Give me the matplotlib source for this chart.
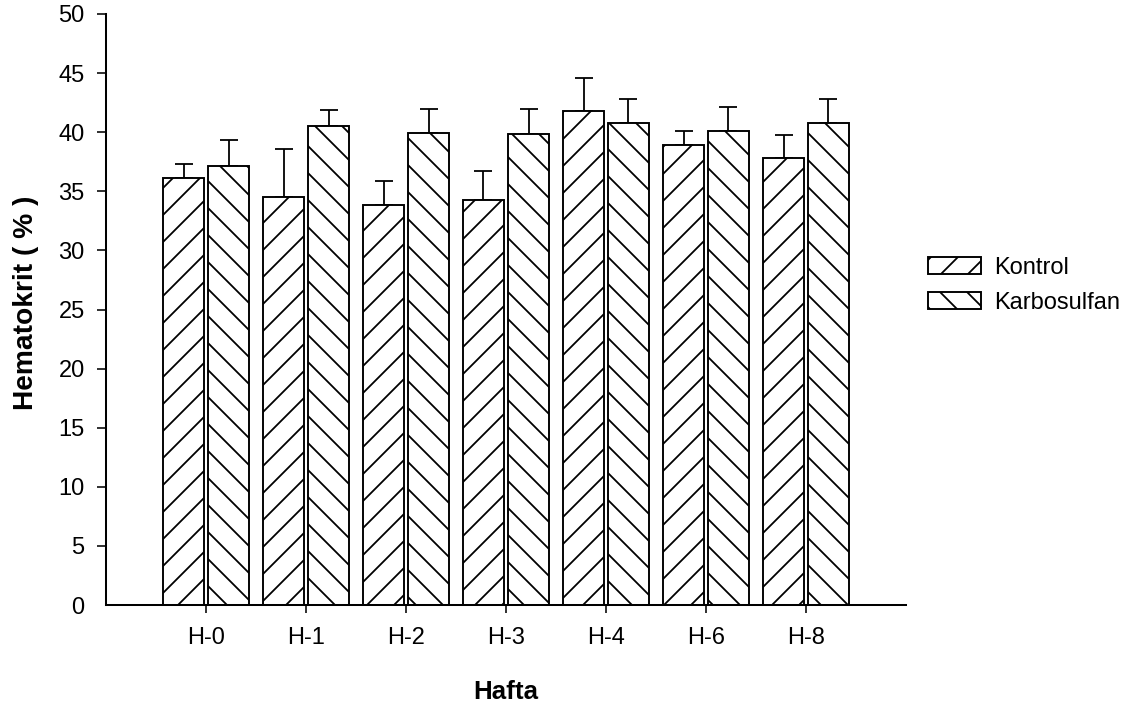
import matplotlib
matplotlib.use("Agg")
import matplotlib.pyplot as plt
import numpy as np

categories = ["H-0", "H-1", "H-2", "H-3", "H-4", "H-6", "H-8"]
kontrol = [36.1, 34.5, 33.8, 34.3, 41.8, 38.9, 37.8]
kontrol_err = [1.2, 4.05, 2.05, 2.4, 2.75, 1.2, 2.0]
karbosulfan = [37.15, 40.55, 39.95, 39.85, 40.8, 40.1, 40.8]
karbosulfan_err = [2.2, 1.3, 2.05, 2.1, 2.05, 2.05, 2.0]
series_names = ["Kontrol", "Karbosulfan"]
yticks = [0, 5, 10, 15, 20, 25, 30, 35, 40, 45, 50]

DPI = 162
W, H = 1121, 714
plt.rcParams['font.family'] = ['Liberation Sans', 'DejaVu Sans']
plt.rcParams['hatch.linewidth'] = 0.8
plt.rcParams['hatch.color'] = 'black'

fig = plt.figure(figsize=(W / DPI, H / DPI), dpi=DPI)
ax_l, ax_r, ax_t, ax_b = 106, 906, 14, 605
ax = fig.add_axes([ax_l / W, 1 - ax_b / H, (ax_r - ax_l) / W, (ax_b - ax_t) / H])

x = np.arange(len(categories))
off = 0.225
bw = 0.41
ax.bar(x - off, kontrol, bw, facecolor='white', edgecolor='black', linewidth=0.85,
       hatch='//', label=series_names[0], zorder=2)
ax.bar(x + off, karbosulfan, bw, facecolor='white', edgecolor='black', linewidth=0.85,
       hatch='\\\\', label=series_names[1], zorder=2)
ax.errorbar(x - off, kontrol, yerr=[np.zeros(len(x)), kontrol_err], fmt='none',
            ecolor='black', elinewidth=0.8, capsize=4, capthick=0.8, zorder=1)
ax.errorbar(x + off, karbosulfan, yerr=[np.zeros(len(x)), karbosulfan_err], fmt='none',
            ecolor='black', elinewidth=0.8, capsize=4, capthick=0.8, zorder=1)

ax.set_xlim(-1, 7)
ax.set_ylim(0, 50)
ax.set_yticks(yticks)
ax.set_xticks(x)
ax.set_xticklabels(categories)
for s in ['top', 'right']:
    ax.spines[s].set_visible(False)
for s in ['left', 'bottom']:
    ax.spines[s].set_linewidth(0.9)
ax.tick_params(axis='y', direction='out', length=4, width=0.7, pad=5.5, labelsize=10.5)
ax.tick_params(axis='x', direction='out', length=3.6, width=0.7, pad=6, labelsize=10.5)
ax.yaxis.get_major_ticks()[0].tick1line.set_visible(False)

fig.text(26 / W, 1 - 303 / H, "Hematokrit ( % )", rotation=90, ha='center', va='center',
         fontsize=12.5, fontweight='bold')
fig.text(506 / W, 1 - 692 / H, "Hafta", ha='center', va='center',
         fontsize=11.5, fontweight='bold')

fig.legend(loc='upper left', bbox_to_anchor=(928 / W, 1 - 257 / H), frameon=False,
           fontsize=10.5, handlelength=2.25, handleheight=0.76, handletextpad=0.55,
           labelspacing=0.55, borderpad=0, borderaxespad=0)

fig.savefig("out.png", dpi=DPI)
